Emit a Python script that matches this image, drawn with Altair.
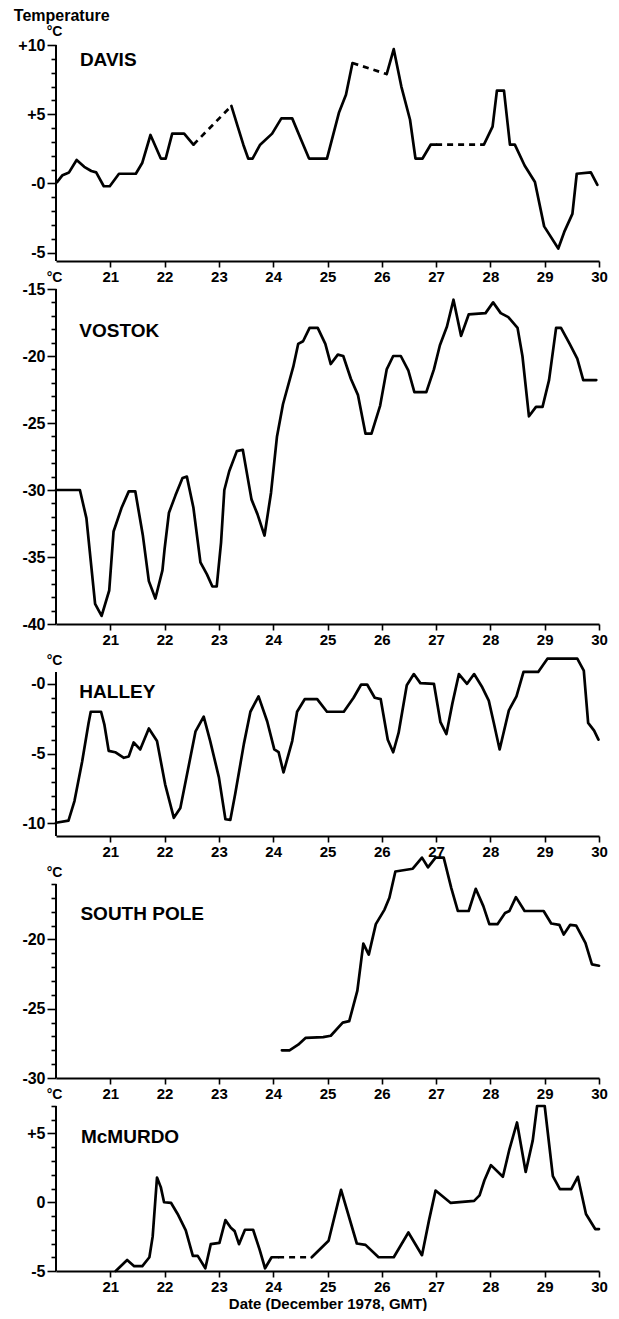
import altair as alt
import pandas as pd
import math

FONT = "Liberation Sans"

X_DOMAIN = [20, 30]
X_TICKS = [21, 22, 23, 24, 25, 26, 27, 28, 29, 30]

# ---------------- DAVIS ----------------
DAVIS_DAY = [20.02, 20.12, 20.24, 20.38, 20.52, 20.65, 20.74, 20.88, 20.99, 21.16,
             21.34, 21.47, 21.59, 21.74, 21.93, 22.02, 22.14, 22.36, 22.53, 23.23,
             23.34, 23.45, 23.54, 23.62, 23.76, 23.98, 24.15, 24.35, 24.52, 24.66,
             24.99, 25.21, 25.34, 25.46, 26.09, 26.22, 26.36, 26.52, 26.62, 26.75,
             26.9, 27.0, 27.88, 28.04, 28.12, 28.25, 28.36, 28.45, 28.63, 28.82,
             28.99, 29.25, 29.36, 29.51, 29.59, 29.85, 29.97]
DAVIS_TEMP = [0.1, 0.6, 0.8, 1.7, 1.2, 0.9, 0.8, -0.2, -0.2, 0.7,
              0.7, 0.7, 1.5, 3.5, 1.8, 1.8, 3.6, 3.6, 2.8, 5.6,
              4.2, 2.8, 1.8, 1.8, 2.8, 3.6, 4.7, 4.7, 3.1, 1.8,
              1.8, 5.1, 6.4, 8.7, 7.9, 9.7, 7.0, 4.6, 1.8, 1.8,
              2.8, 2.8, 2.8, 4.1, 6.7, 6.7, 2.8, 2.8, 1.3, 0.1,
              -3.1, -4.7, -3.5, -2.2, 0.7, 0.8, -0.1]
DAVIS_DASHED_FROM = [22.53, 25.46, 27.0]
DAVIS_YLABELS = [(10, "+10"), (5, "+5"), (0, "-0"), (-5, "-5")]

# ---------------- VOSTOK ----------------
VOSTOK_DAY = [20.0, 20.44, 20.56, 20.72, 20.84, 20.98, 21.06, 21.21, 21.34, 21.46,
              21.6, 21.71, 21.83, 21.96, 22.0, 22.08, 22.2, 22.33, 22.41, 22.53,
              22.66, 22.78, 22.88, 22.96, 23.04, 23.1, 23.19, 23.33, 23.44, 23.6,
              23.71, 23.84, 23.96, 24.07, 24.18, 24.37, 24.46, 24.55, 24.67, 24.82,
              24.96, 25.06, 25.19, 25.29, 25.43, 25.56, 25.7, 25.81, 25.97, 26.09,
              26.21, 26.35, 26.49, 26.6, 26.82, 26.96, 27.07, 27.2, 27.32, 27.46,
              27.6, 27.91, 28.05, 28.19, 28.33, 28.5, 28.59, 28.71, 28.84, 28.96,
              29.08, 29.21, 29.3, 29.46, 29.6, 29.71, 29.95]
VOSTOK_TEMP = [-30, -30, -32.1, -38.5, -39.4, -37.5, -33.1, -31.3, -30.1, -30.1,
               -33.4, -36.8, -38.1, -36.0, -34.4, -31.7, -30.4, -29.1, -29.0, -31.3,
               -35.4, -36.3, -37.2, -37.2, -33.9, -30.0, -28.6, -27.1, -27.0, -30.7,
               -31.8, -33.4, -30.2, -26.0, -23.6, -20.8, -19.1, -18.9, -17.9, -17.9,
               -19.1, -20.6, -19.9, -20.0, -21.7, -22.9, -25.8, -25.8, -23.7, -21.0,
               -20.0, -20.0, -21.1, -22.7, -22.7, -21.0, -19.2, -17.8, -15.8, -18.5,
               -16.9, -16.8, -16.0, -16.8, -17.1, -17.9, -20.0, -24.5, -23.8, -23.8,
               -21.8, -17.9, -17.9, -19.1, -20.2, -21.8, -21.8]
VOSTOK_DASHED_FROM = []
VOSTOK_YLABELS = [(-15, "-15"), (-20, "-20"), (-25, "-25"), (-30, "-30"), (-35, "-35"), (-40, "-40")]

# ---------------- HALLEY ----------------
HALLEY_DAY = [20.0, 20.23, 20.34, 20.48, 20.6, 20.64, 20.83, 20.89, 20.97, 21.09,
              21.25, 21.34, 21.43, 21.55, 21.71, 21.86, 22.01, 22.17, 22.29, 22.57,
              22.72, 22.84, 23.0, 23.12, 23.21, 23.3, 23.46, 23.58, 23.73, 23.89,
              24.02, 24.1, 24.19, 24.35, 24.44, 24.58, 24.81, 24.99, 25.3, 25.48,
              25.62, 25.73, 25.87, 25.98, 26.11, 26.21, 26.31, 26.46, 26.59, 26.71,
              26.96, 27.08, 27.19, 27.3, 27.42, 27.57, 27.7, 27.85, 27.97, 28.06,
              28.17, 28.34, 28.48, 28.61, 28.88, 29.05, 29.6, 29.72, 29.8, 29.91,
              29.99]
HALLEY_TEMP = [-9.95, -9.8, -8.4, -5.6, -2.8, -2.0, -2.0, -2.9, -4.8, -4.9,
               -5.3, -5.2, -4.2, -4.7, -3.2, -4.1, -7.2, -9.6, -8.9, -3.4,
               -2.35, -4.1, -6.7, -9.7, -9.75, -7.9, -4.3, -2.0, -0.9, -2.7,
               -4.7, -4.9, -6.35, -4.1, -2.0, -1.1, -1.1, -2.0, -2.0, -1.0,
               -0.05, -0.05, -1.0, -1.1, -4.0, -4.9, -3.5, -0.1, 0.7, 0.05,
               0.0, -2.75, -3.6, -1.4, 0.7, 0.0, 0.7, -0.25, -1.2, -2.75,
               -4.7, -1.9, -0.9, 0.85, 0.85, 1.8, 1.8, 0.95, -2.8, -3.35,
               -4.0]
HALLEY_DASHED_FROM = []
HALLEY_YLABELS = [(0, "-0"), (-5, "-5"), (-10, "-10")]

# ---------------- SOUTH POLE ----------------
SOUTHPOLE_DAY = [24.16, 24.3, 24.46, 24.6, 24.92, 25.06, 25.28, 25.4, 25.55, 25.66,
                 25.76, 25.89, 26.05, 26.14, 26.25, 26.57, 26.74, 26.85, 26.99, 27.14,
                 27.28, 27.4, 27.6, 27.73, 27.87, 27.98, 28.13, 28.27, 28.35, 28.47,
                 28.63, 28.98, 29.12, 29.27, 29.35, 29.47, 29.58, 29.75, 29.87, 30.0]
SOUTHPOLE_TEMP = [-28.0, -28.0, -27.6, -27.1, -27.05, -26.95, -26.0, -25.9, -23.7, -20.3,
                  -21.1, -18.9, -17.85, -17.0, -15.1, -14.9, -14.1, -14.8, -14.1, -14.1,
                  -16.3, -17.95, -17.95, -16.35, -17.6, -18.9, -18.9, -18.1, -17.95, -16.95,
                  -17.95, -17.95, -18.85, -18.95, -19.65, -18.95, -19.0, -20.25, -21.8, -21.9]
SOUTHPOLE_DASHED_FROM = []
SOUTHPOLE_YLABELS = [(-20, "-20"), (-25, "-25"), (-30, "-30")]

# ---------------- McMURDO ----------------
MCMURDO_DAY = [21.1, 21.31, 21.44, 21.59, 21.72, 21.78, 21.86, 21.93, 21.99, 22.12,
               22.24, 22.39, 22.52, 22.61, 22.75, 22.85, 23.01, 23.12, 23.22, 23.29,
               23.37, 23.48, 23.63, 23.75, 23.85, 23.97, 24.09, 24.71, 25.02, 25.25,
               25.54, 25.7, 25.94, 26.22, 26.49, 26.74, 26.87, 26.99, 27.27, 27.7,
               27.8, 27.89, 28.01, 28.23, 28.35, 28.49, 28.65, 28.78, 28.86, 29.0,
               29.15, 29.28, 29.49, 29.61, 29.76, 29.93, 30.0]
MCMURDO_TEMP = [-5.0, -4.2, -4.65, -4.65, -4.0, -2.5, 1.8, 1.1, 0.0, -0.05,
                -0.85, -2.05, -3.9, -3.9, -4.8, -3.05, -2.95, -1.3, -1.85, -2.1,
                -3.05, -2.0, -2.0, -3.45, -4.8, -4.0, -4.0, -4.0, -2.8, 0.9,
                -3.0, -3.1, -4.0, -4.0, -2.2, -3.85, -1.3, 0.85, -0.05, 0.1,
                0.5, 1.6, 2.7, 1.85, 3.85, 5.8, 2.2, 4.5, 7.0, 7.0,
                1.9, 0.95, 0.95, 1.85, -0.85, -1.95, -1.95]
MCMURDO_DASHED_FROM = [24.09]
MCMURDO_YLABELS = [(5, "+5"), (0, "0"), (-5, "-5")]


def make_df(days, temps, dashed_from):
    rows = []
    seg = 0
    prev = None
    for i in range(len(days) - 1):
        style = "dashed" if days[i] in dashed_from else "solid"
        if style != prev:
            seg += 1
            rows.append({"day": days[i], "temp": temps[i], "seg": seg, "style": style})
        rows.append({"day": days[i + 1], "temp": temps[i + 1], "seg": seg, "style": style})
        prev = style
    return pd.DataFrame(rows)


def panel(name, days, temps, dashed_from, ydom, axis_top, ylabels, height, lab_day, lab_temp,
          xtitle=None, title_y=-5):
    df = make_df(days, temps, dashed_from)
    expr = "".join(f"datum.value == {v} ? '{t}' : " for v, t in ylabels) + "''"
    yvals = list(range(math.ceil(ydom[0]), math.floor(axis_top) + 1))
    xscale = alt.Scale(domain=X_DOMAIN, nice=False, zero=False)
    yscale = alt.Scale(domain=ydom, nice=False, zero=False)
    xaxis = alt.Axis(values=X_TICKS, format="d", labelFlush=False,
                     labelOverlap=False, tickSize=6, grid=False,
                     labelFontSize=15,
                     title=xtitle, titlePadding=2, titleFontSize=15)
    yaxis = alt.Axis(values=yvals, labelExpr=expr, labelFlush=False,
                     labelOverlap=False, grid=False, domain=False,
                     labelFontSize=16,
                     tickSize={"condition": {"test": "datum.value % 5 === 0", "value": 9},
                               "value": 5},
                     title="°C", titleAngle=0, titleAlign="center",
                     titleBaseline="bottom", titleX=-2, titleY=title_y)

    def X(field):
        return alt.X(field, scale=xscale, axis=xaxis)

    def Y(field):
        return alt.Y(field, scale=yscale, axis=yaxis)

    solid = alt.Chart(df).transform_filter(alt.datum.style == "solid").mark_line(
        color="black", strokeWidth=2.7, strokeJoin="round", strokeCap="round"
    ).encode(x=X("day:Q"), y=Y("temp:Q"), detail="seg:N")
    # vertical axis line (ends at the top labelled value, like the original)
    axis_line = alt.Chart(pd.DataFrame({"day": [X_DOMAIN[0]], "temp": [ydom[0]], "hi": [axis_top]})).mark_rule(
        color="black", strokeWidth=2
    ).encode(x=X("day:Q"), y=Y("temp:Q"), y2="hi:Q")
    layers = [solid, axis_line]
    if dashed_from:
        dashed = alt.Chart(df).transform_filter(alt.datum.style == "dashed").mark_line(
            color="black", strokeWidth=2.7, strokeDash=[6, 5]
        ).encode(x=X("day:Q"), y=Y("temp:Q"), detail="seg:N")
        layers.append(dashed)
    label = alt.Chart(pd.DataFrame({"day": [lab_day], "temp": [lab_temp], "name": [name]})).mark_text(
        align="left", baseline="middle", font=FONT, fontWeight="bold", fontSize=19, color="black"
    ).encode(x=X("day:Q"), y=Y("temp:Q"), text="name:N")
    layers.append(label)
    return alt.layer(*layers).properties(width=543, height=height)


davis = panel("DAVIS", DAVIS_DAY, DAVIS_TEMP, DAVIS_DASHED_FROM, [-5.6, 10], 10,
              DAVIS_YLABELS, 216, 20.44, 8.9, title_y=-7)
vostok = panel("VOSTOK", VOSTOK_DAY, VOSTOK_TEMP, VOSTOK_DASHED_FROM, [-40, -15], -15,
               VOSTOK_YLABELS, 335, 20.43, -18.1)
halley = panel("HALLEY", HALLEY_DAY, HALLEY_TEMP, HALLEY_DASHED_FROM, [-10.9, 2.28], 0.85,
               HALLEY_YLABELS, 184, 20.43, -0.6, title_y=15)
southpole = panel("SOUTH  POLE", SOUTHPOLE_DAY, SOUTHPOLE_TEMP, SOUTHPOLE_DASHED_FROM, [-30, -14.56], -16,
                  SOUTHPOLE_YLABELS, 214, 20.45, -18.15, title_y=15)
mcmurdo = panel("McMURDO", MCMURDO_DAY, MCMURDO_TEMP, MCMURDO_DASHED_FROM, [-5, 7], 7,
                MCMURDO_YLABELS, 165, 20.46, 4.76, xtitle="Date (December 1978, GMT)")

chart = alt.VConcatChart(
    vconcat=[davis, vostok, halley, southpole, mcmurdo], spacing=28, bounds="flush",
    title=alt.TitleParams("Temperature", anchor="start", font=FONT, fontSize=16,
                          fontWeight="bold", color="black", offset=0, dx=-4),
).properties(
    padding={"left": 5, "top": 0, "right": 2, "bottom": 0}
).configure_view(stroke=None).configure_axis(
    domainColor="black", domainWidth=2, tickColor="black", tickWidth=1.6,
    labelFont=FONT, labelFontWeight="bold", labelColor="black", labelOverlap=False,
    labelPadding=2, titleFont=FONT, titleFontWeight="bold", titleFontSize=14,
    titleColor="black"
)

chart.save("out.html", embed_options={"renderer": "svg", "actions": False})
